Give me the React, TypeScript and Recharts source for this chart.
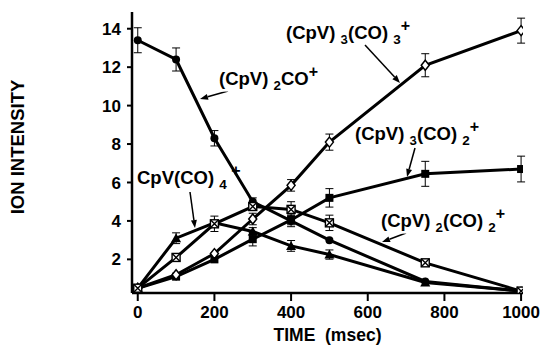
import React from "react";
import {
  ComposedChart,
  Customized,
  ErrorBar,
  Line,
  XAxis,
  YAxis,
} from "recharts";

const times = [0, 100, 200, 300, 400, 500, 750, 1000];
const xTicks = [0, 200, 400, 600, 800, 1000];
const yTicks = [2, 4, 6, 8, 10, 12, 14];

// (CpV)2CO+  filled circles
const cpv2co = [13.4, 12.4, 8.3, 5.0, 4.0, 3.0, 0.85, 0.35];
const cpv2coErr = [0.65, 0.6, 0.4, 0.2, 0.3, 0, 0, 0];
// (CpV)3(CO)3+  open diamonds
const cpv3co3 = [0.5, 1.2, 2.3, 4.1, 5.85, 8.1, 12.1, 13.9];
const cpv3co3Err = [0, 0, 0, 0.3, 0.3, 0.42, 0.6, 0.65];
// (CpV)3(CO)2+  filled squares
const cpv3co2 = [0.5, 1.1, 2.0, 3.05, 4.05, 5.2, 6.45, 6.7];
const cpv3co2Err = [0, 0, 0, 0.35, 0.25, 0.48, 0.65, 0.67];
// CpV(CO)4+  filled triangles
const cpvco4 = [0.5, 3.1, 3.9, 3.45, 2.7, 2.25, 0.8, 0.35];
const cpvco4Err = [0, 0.28, 0, 0.2, 0.28, 0.24, 0, 0];
// (CpV)2(CO)2+  crossed squares
const cpv2co2 = [0.5, 2.1, 3.85, 4.75, 4.6, 3.9, 1.82, 0.35];
const cpv2co2Err = [0, 0, 0.4, 0, 0.4, 0.4, 0, 0];

const data = times.map((t, i) => ({
  t,
  cpv2co: cpv2co[i],
  cpv2coErr: cpv2coErr[i],
  cpv3co3: cpv3co3[i],
  cpv3co3Err: cpv3co3Err[i],
  cpv3co2: cpv3co2[i],
  cpv3co2Err: cpv3co2Err[i],
  cpvco4: cpvco4[i],
  cpvco4Err: cpvco4Err[i],
  cpv2co2: cpv2co2[i],
  cpv2co2Err: cpv2co2Err[i],
}));

const FONT = "'Liberation Sans', Arial, Helvetica, sans-serif";

const circleDot = (p: any) => (
  <circle key={p.index} cx={p.cx} cy={p.cy} r={4} fill="#000" />
);
const squareDot = (p: any) => (
  <rect key={p.index} x={p.cx - 4} y={p.cy - 4} width={8} height={8} fill="#000" />
);
const triangleDot = (p: any) => (
  <polygon
    key={p.index}
    points={`${p.cx},${p.cy - 5} ${p.cx - 5},${p.cy + 4} ${p.cx + 5},${p.cy + 4}`}
    fill="#000"
  />
);
const diamondDot = (p: any) => (
  <polygon
    key={p.index}
    points={`${p.cx},${p.cy - 5} ${p.cx + 4},${p.cy} ${p.cx},${p.cy + 5} ${p.cx - 4},${p.cy}`}
    fill="#fff"
    stroke="#000"
    strokeWidth={1.5}
  />
);
const crossDot = (p: any) => (
  <g key={p.index} stroke="#000" strokeWidth={1.4}>
    <rect x={p.cx - 4} y={p.cy - 4} width={8} height={8} fill="#fff" />
    <path d={`M${p.cx - 4},${p.cy - 4}L${p.cx + 4},${p.cy + 4}M${p.cx + 4},${p.cy - 4}L${p.cx - 4},${p.cy + 4}`} />
  </g>
);

type Part = [string, "n" | "sub" | "sup"];

function Formula({ x, y, parts }: { x: number; y: number; parts: Part[] }) {
  let shift = 0;
  return (
    <text
      x={x}
      y={y}
      fontFamily={FONT}
      fontWeight="bold"
      fontSize={18.5}
      fill="#000"
      stroke="#fff"
      strokeWidth={5}
      paintOrder="stroke"
      style={{ whiteSpace: "pre" }}
    >
      {parts.map(([s, k], i) => {
        const target = k === "sub" ? 5 : k === "sup" ? -8 : 0;
        const dy = target - shift;
        shift = target;
        return (
          <tspan key={i} dy={dy} fontSize={k === "n" ? 18.5 : k === "sub" ? 13.5 : 16}>
            {s}
          </tspan>
        );
      })}
    </text>
  );
}

function Arrow({ x1, y1, x2, y2 }: { x1: number; y1: number; x2: number; y2: number }) {
  const a = Math.atan2(y2 - y1, x2 - x1);
  const L = 8;
  const W = 3;
  const bx = x2 - L * Math.cos(a);
  const by = y2 - L * Math.sin(a);
  const px = -Math.sin(a) * W;
  const py = Math.cos(a) * W;
  return (
    <g>
      <line x1={x1} y1={y1} x2={bx} y2={by} stroke="#000" strokeWidth={1.5} />
      <polygon points={`${x2},${y2} ${bx + px},${by + py} ${bx - px},${by - py}`} fill="#000" />
    </g>
  );
}

function Annotations() {
  return (
    <g>
      <Arrow x1={228} y1={91} x2={200} y2={99} />
      <Arrow x1={365} y1={45} x2={400} y2={83} />
      <Arrow x1={415} y1={148} x2={407} y2={177} />
      <Arrow x1={190} y1={192} x2={195} y2={228} />
      <Arrow x1={406} y1={233} x2={382} y2={242} />
      <Formula x={219} y={85} parts={[["(CpV) ", "n"], ["2", "sub"], ["CO", "n"], ["+", "sup"]]} />
      <Formula
        x={286}
        y={39}
        parts={[["(CpV) ", "n"], ["3", "sub"], ["(CO) ", "n"], ["3", "sub"], ["+", "sup"]]}
      />
      <Formula
        x={355}
        y={140}
        parts={[["(CpV) ", "n"], ["3", "sub"], ["(CO) ", "n"], ["2", "sub"], ["+", "sup"]]}
      />
      <Formula x={137} y={184} parts={[["CpV(CO) ", "n"], ["4", "sub"], [" +", "sup"]]} />
      <Formula
        x={381}
        y={227}
        parts={[["(CpV) ", "n"], ["2", "sub"], ["(CO) ", "n"], ["2", "sub"], ["+", "sup"]]}
      />
    </g>
  );
}

const tickStyle = { fill: "#000", fontSize: 17, fontWeight: "bold", fontFamily: FONT };

export default function App() {
  return (
    <div style={{ width: 540, height: 347, background: "#fff" }}>
      <style>{"body{margin:0;background:#fff}"}</style>
      <ComposedChart
        width={540}
        height={347}
        data={data}
        margin={{ top: 12, right: 17, bottom: 0, left: 0 }}
      >
        <XAxis
          dataKey="t"
          type="number"
          domain={[-15, 1005]}
          ticks={xTicks}
          allowDataOverflow
          height={54}
          tick={tickStyle}
          tickSize={8}
          tickMargin={5}
          tickLine={{ stroke: "#000", strokeWidth: 2 }}
          axisLine={{ stroke: "#000", strokeWidth: 2.5 }}
          label={({ viewBox }: any) => (
            <text
              x={viewBox.x + viewBox.width / 2}
              y={viewBox.y + 48}
              textAnchor="middle"
              fontFamily={FONT}
              fontWeight="bold"
              fontSize={17.5}
              style={{ whiteSpace: "pre" }}
            >
              TIME  (msec)
            </text>
          )}
        />
        <YAxis
          type="number"
          domain={[0.25, 14.87]}
          ticks={yTicks}
          allowDataOverflow
          width={132}
          tick={tickStyle}
          tickSize={5}
          tickMargin={6}
          tickLine={{ stroke: "#000", strokeWidth: 2 }}
          axisLine={{ stroke: "#000", strokeWidth: 2.5 }}
          label={({ viewBox }: any) => {
            const cx = 24;
            const cy = viewBox.y + 135;
            return (
              <text
                x={cx}
                y={cy}
                transform={`rotate(-90 ${cx} ${cy})`}
                textAnchor="middle"
                fontFamily={FONT}
                fontWeight="bold"
                fontSize={18.5}
              >
                ION INTENSITY
              </text>
            );
          }}
        />
        <Line dataKey="cpvco4" stroke="#000" strokeWidth={3} dot={triangleDot} isAnimationActive={false}>
          <ErrorBar dataKey="cpvco4Err" width={4} stroke="#000" strokeWidth={1} direction="y" />
        </Line>
        <Line dataKey="cpv3co2" stroke="#000" strokeWidth={3} dot={squareDot} isAnimationActive={false}>
          <ErrorBar dataKey="cpv3co2Err" width={4} stroke="#000" strokeWidth={1} direction="y" />
        </Line>
        <Line dataKey="cpv2co" stroke="#000" strokeWidth={3} dot={circleDot} isAnimationActive={false}>
          <ErrorBar dataKey="cpv2coErr" width={4} stroke="#000" strokeWidth={1} direction="y" />
        </Line>
        <Line dataKey="cpv3co3" stroke="#000" strokeWidth={3} dot={diamondDot} isAnimationActive={false}>
          <ErrorBar dataKey="cpv3co3Err" width={4} stroke="#000" strokeWidth={1} direction="y" />
        </Line>
        <Line dataKey="cpv2co2" stroke="#000" strokeWidth={3} dot={crossDot} isAnimationActive={false}>
          <ErrorBar dataKey="cpv2co2Err" width={4} stroke="#000" strokeWidth={1} direction="y" />
        </Line>
        <Customized component={<Annotations />} />
      </ComposedChart>
    </div>
  );
}
